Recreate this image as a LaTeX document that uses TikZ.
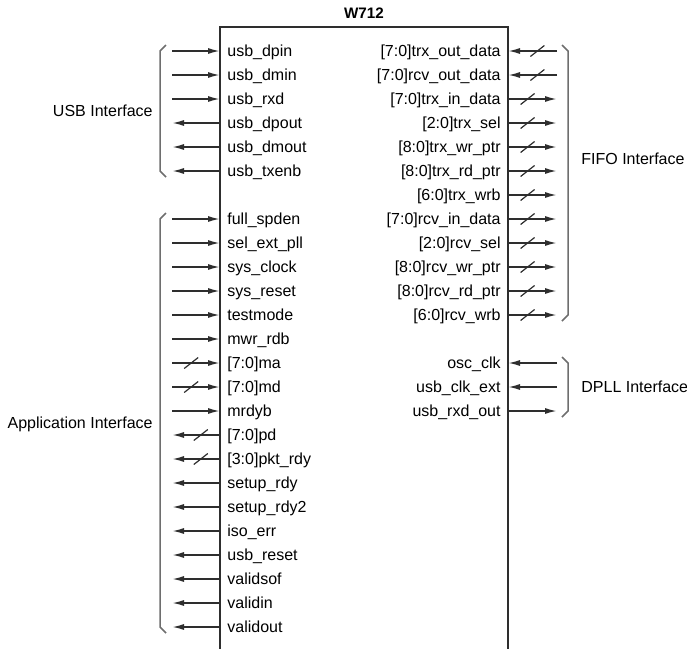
\documentclass[tikz,border=0pt]{standalone}
\usepackage{fontspec}
\setmainfont{Liberation Sans}
\usetikzlibrary{arrows.meta}
\definecolor{wire}{HTML}{2E2E2E}
\definecolor{brk}{HTML}{6E6E6E}
\begin{document}
\begin{tikzpicture}[x=0.5pt,y=-0.5pt,
    sig/.style={draw=wire, line width=0.8pt, -{Latex[length=6pt,width=3pt]}},
    busmark/.style={draw=wire, line width=0.6pt},
    chip/.style={draw=wire, line width=1pt},
    brack/.style={draw=brk, line width=0.75pt},
    pinl/.style={anchor=west, inner xsep=3.5pt, inner ysep=0pt, text height=5.8pt, text depth=0pt, font=\fontsize{8}{9.6}\selectfont},
    pinr/.style={pinl, anchor=east},
    ifname/.style={inner sep=0pt, text height=5.8pt, text depth=0pt, font=\fontsize{8}{9.6}\selectfont}]
  \useasboundingbox (0,0) rectangle (687,649);

  % chip outline, open at the bottom
  \draw[chip] (220,649) -- (220,27) -- (508,27) -- (508,649);
  \node[font=\bfseries\fontsize{7.6}{9}\selectfont] (title) at (364,13) {W712};

  % left side pins: row/name/direction (1 = into chip)/bus
  \foreach \r/\pname/\pdir/\pbus in {0/usb\_dpin/1/0, 1/usb\_dmin/1/0, 2/usb\_rxd/1/0,
      3/usb\_dpout/0/0, 4/usb\_dmout/0/0, 5/usb\_txenb/0/0,
      7/full\_spden/1/0, 8/sel\_ext\_pll/1/0, 9/sys\_clock/1/0, 10/sys\_reset/1/0,
      11/testmode/1/0, 12/mwr\_rdb/1/0, 13/{[7:0]ma}/1/1, 14/{[7:0]md}/1/1,
      15/mrdyb/1/0, 16/{[7:0]pd}/0/1, 17/{[3:0]pkt\_rdy}/0/1, 18/setup\_rdy/0/0,
      19/setup\_rdy2/0/0, 20/iso\_err/0/0, 21/usb\_reset/0/0, 22/validsof/0/0,
      23/validin/0/0, 24/validout/0/0}
    {
      \pgfmathsetmacro{\y}{51+24*\r}
      \node[pinl] (l\r) at (220,\y) {\pname};
      \coordinate (lt\r) at (172,\y);
      \ifnum\pdir=1
        \draw[sig] (lt\r) -- coordinate[pos=0.4] (lb\r) (l\r.west);
      \else
        \draw[sig] (l\r.west) -- coordinate[pos=0.4] (lb\r) (lt\r);
      \fi
      \ifnum\pbus=1
        \draw[busmark] (lb\r) ++(-7,5.5) -- ++(14,-11);
      \fi
    }

  % right side pins
  \foreach \r/\pname/\pdir/\pbus in {0/{[7:0]trx\_out\_data}/1/1, 1/{[7:0]rcv\_out\_data}/1/1,
      2/{[7:0]trx\_in\_data}/0/1, 3/{[2:0]trx\_sel}/0/1, 4/{[8:0]trx\_wr\_ptr}/0/1,
      5/{[8:0]trx\_rd\_ptr}/0/1, 6/{[6:0]trx\_wrb}/0/1, 7/{[7:0]rcv\_in\_data}/0/1,
      8/{[2:0]rcv\_sel}/0/1, 9/{[8:0]rcv\_wr\_ptr}/0/1, 10/{[8:0]rcv\_rd\_ptr}/0/1,
      11/{[6:0]rcv\_wrb}/0/1, 13/osc\_clk/1/0, 14/usb\_clk\_ext/1/0, 15/usb\_rxd\_out/0/0}
    {
      \pgfmathsetmacro{\y}{51+24*\r}
      \node[pinr] (r\r) at (508,\y) {\pname};
      \coordinate (rt\r) at (557,\y);
      \ifnum\pdir=1
        \draw[sig] (rt\r) -- coordinate[pos=0.4] (rb\r) (r\r.east);
      \else
        \draw[sig] (r\r.east) -- coordinate[pos=0.4] (rb\r) (rt\r);
      \fi
      \ifnum\pbus=1
        \draw[busmark] (rb\r) ++(-7,5.5) -- ++(14,-11);
      \fi
    }

  % interface brackets
  \draw[brack] (166,45) -- (160,51) -- (160,171) -- (166,177);
  \draw[brack] (166,213) -- (160,219) -- (160,627) -- (166,633);
  \draw[brack] (562,45) -- (568,51) -- (568,315) -- (562,321);
  \draw[brack] (562,357) -- (568,363) -- (568,411) -- (562,417);

  \node[ifname, anchor=east] (usbif) at (153,111) {USB Interface};
  \node[ifname, anchor=east] (appif) at (153,423) {Application Interface};
  \node[ifname, anchor=west] (fifoif) at (581,159) {FIFO Interface};
  \node[ifname, anchor=west] (dpllif) at (581,387) {DPLL Interface};
\end{tikzpicture}
\end{document}
